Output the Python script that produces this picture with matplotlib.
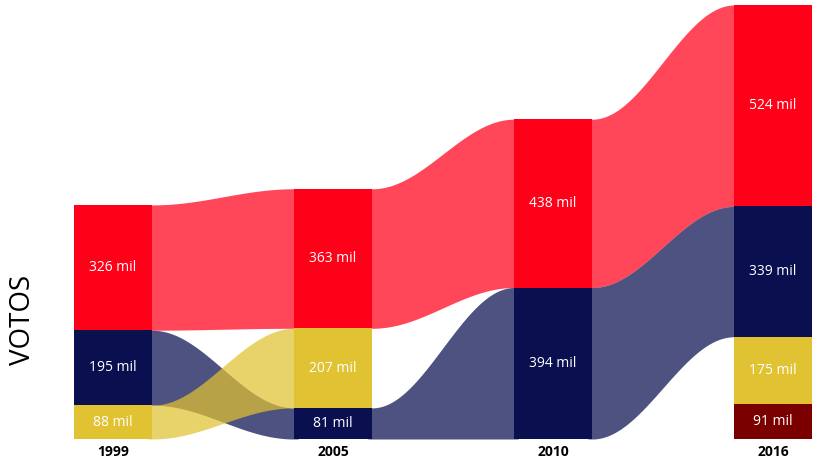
import numpy as np
import matplotlib.pyplot as plt

years   = ["1999", "2005", "2010", "2016"]
red     = [326, 363, 438, 524]
navy    = [195, 81, 394, 339]
yellow  = [88, 207, 0, 175]
darkred = [0, 0, 0, 91]

series = {
    "red":     (red,     "#FF0019"),
    "navy":    (navy,    "#0A0F4F"),
    "yellow":  (yellow,  "#E0C232"),
    "darkred": (darkred, "#7A0000"),
}

BAR_W  = 0.355
RIB_A  = 0.72

# stack each year smallest at bottom
spans = {k: [None] * len(years) for k in series}
for i in range(len(years)):
    order = sorted(series, key=lambda k: series[k][0][i])
    base = 0
    for k in order:
        v = series[k][0][i]
        if v > 0:
            spans[k][i] = (base, base + v)
            base += v

fig = plt.figure(figsize=(8.16, 4.62), dpi=100)
ax = fig.add_axes([0, 23 / 462, 1, 1 - 23 / 462])

t = np.linspace(0, 1, 200)
s = (1 - np.cos(np.pi * t)) / 2
# short flat pieces that hide under the bars, so no seam shows
t = np.concatenate([[-0.03], t, [1.03]])
s = np.concatenate([[0.0], s, [1.0]])

# ribbons first
for k, (vals, col) in series.items():
    for i in range(len(years) - 1):
        a, b = spans[k][i], spans[k][i + 1]
        if a is None or b is None:
            continue
        x0 = i + BAR_W / 2
        x1 = i + 1 - BAR_W / 2
        xs = x0 + (x1 - x0) * t
        lo = a[0] + (b[0] - a[0]) * s
        hi = a[1] + (b[1] - a[1]) * s
        ax.fill_between(xs, lo, hi, color=col, alpha=RIB_A, linewidth=0)

# bars + labels
for k, (vals, col) in series.items():
    for i in range(len(years)):
        sp = spans[k][i]
        if sp is None:
            continue
        ax.bar(i, sp[1] - sp[0], bottom=sp[0], width=BAR_W, color=col, linewidth=0)
        ax.text(i, (sp[0] + sp[1]) / 2, str(vals[i]) + " mil", ha="center", va="center",
                color="white", fontsize=10, family="Open Sans")

for i, y in enumerate(years):
    ax.text(i, -13 / 0.3844, y, ha="center", va="center", fontsize=10,
            fontweight="bold", family="Open Sans", clip_on=False)

fig.text(23 / 816, 1 - 320 / 462, "VOTOS", rotation=90, ha="center", va="center",
         fontsize=20, family="Open Sans")

ax.set_xlim(-113 / 220, (816 - 113) / 220)
ax.set_ylim(0, 439 / 0.3844)
ax.axis("off")

plt.savefig("out.png", dpi=100)
plt.close()
